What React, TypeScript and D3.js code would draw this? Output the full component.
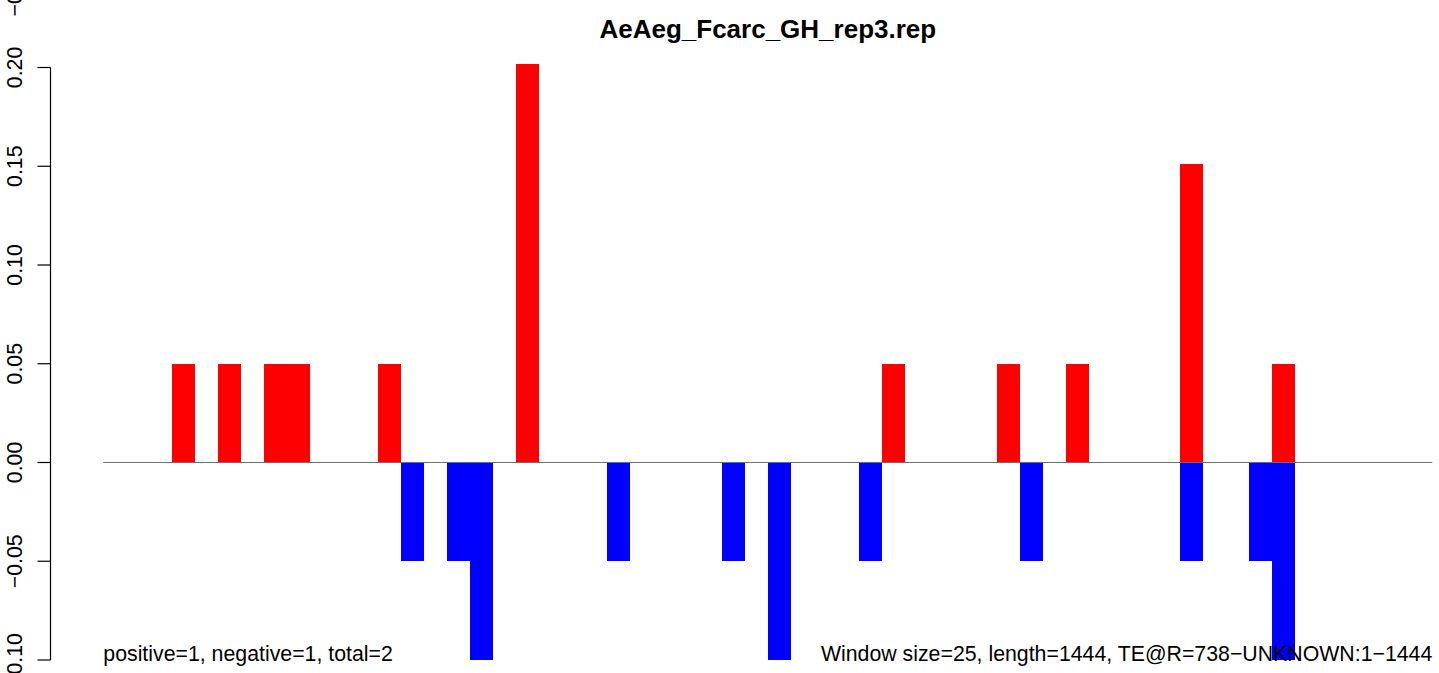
import React from "react";
import * as d3 from "d3";

const title = "AeAeg_Fcarc_GH_rep3.rep";
const leftNote = "positive=1, negative=1, total=2";
const rightNote = "Window size=25, length=1444, TE@R=738\u2212UNKNOWN:1\u22121444";
const windowCount = 58;
const yTicks = [-0.1, -0.05, 0, 0.05, 0.1, 0.15, 0.2];

const posWindows = [3, 5, 7, 8, 12, 18, 34, 39, 42, 47, 51];
const posValues = [0.05, 0.05, 0.05, 0.05, 0.05, 0.202, 0.05, 0.05, 0.05, 0.151, 0.05];
const negWindows = [13, 15, 16, 22, 27, 29, 33, 40, 47, 50, 51];
const negValues = [-0.05, -0.05, -0.1, -0.05, -0.05, -0.1, -0.05, -0.05, -0.05, -0.05, -0.1];

const W = 1439;
const H = 673;
const FONT = "'Liberation Sans', Arial, Helvetica, sans-serif";

export default function App() {
  const x = d3.scaleLinear().domain([0, windowCount]).range([103.3, 1432.3]);
  const y = d3.scaleLinear().domain([-0.1, 0.2]).range([660, 67.5]);
  const fmt = (v: number) => d3.format(".2f")(v).replace("-", "\u2212");
  const bw = x(1) - x(0);

  return (
    <svg
      width={W}
      height={H}
      style={{ position: "absolute", left: 0, top: 0, background: "#fff" }}
      fontFamily={FONT}
    >
      <rect x={0} y={0} width={W} height={H} fill="#fff" />
      <text x={(x(0) + x(windowCount)) / 2} y={38} textAnchor="middle" fontWeight="bold" fontSize={26}>
        {title}
      </text>
      {/* cut-off label from panel above */}
      <text transform={`translate(22,16.5) rotate(-90)`} textAnchor="start" fontSize={21.3}>
        {"\u22120.10"}
      </text>
      {/* y axis */}
      <line x1={50.5} x2={50.5} y1={y(0.2)} y2={y(-0.1)} stroke="#000" strokeWidth={1.2} />
      {yTicks.map((t) => (
        <g key={t}>
          <line x1={37.5} x2={50.5} y1={y(t)} y2={y(t)} stroke="#000" strokeWidth={1.2} />
          <text transform={`translate(22,${y(t)}) rotate(-90)`} textAnchor="middle" fontSize={21.3}>
            {fmt(t)}
          </text>
        </g>
      ))}
      {posWindows.map((w, i) => (
        <rect
          key={"p" + i}
          x={x(w)}
          width={bw}
          y={y(posValues[i])}
          height={y(0) - y(posValues[i])}
          fill="#FF0000"
          shapeRendering="crispEdges"
        />
      ))}
      {negWindows.map((w, i) => (
        <rect
          key={"n" + i}
          x={x(w)}
          width={bw}
          y={y(0)}
          height={y(negValues[i]) - y(0)}
          fill="#0000FF"
          shapeRendering="crispEdges"
        />
      ))}
      <line x1={x(0)} x2={x(windowCount)} y1={y(0)} y2={y(0)} stroke="#6e6e6e" strokeWidth={1.2} />
      <text x={x(0)} y={661} fontSize={21.3}>
        {leftNote}
      </text>
      <text x={x(windowCount)} y={661} textAnchor="end" fontSize={21.3}>
        {rightNote}
      </text>
    </svg>
  );
}
